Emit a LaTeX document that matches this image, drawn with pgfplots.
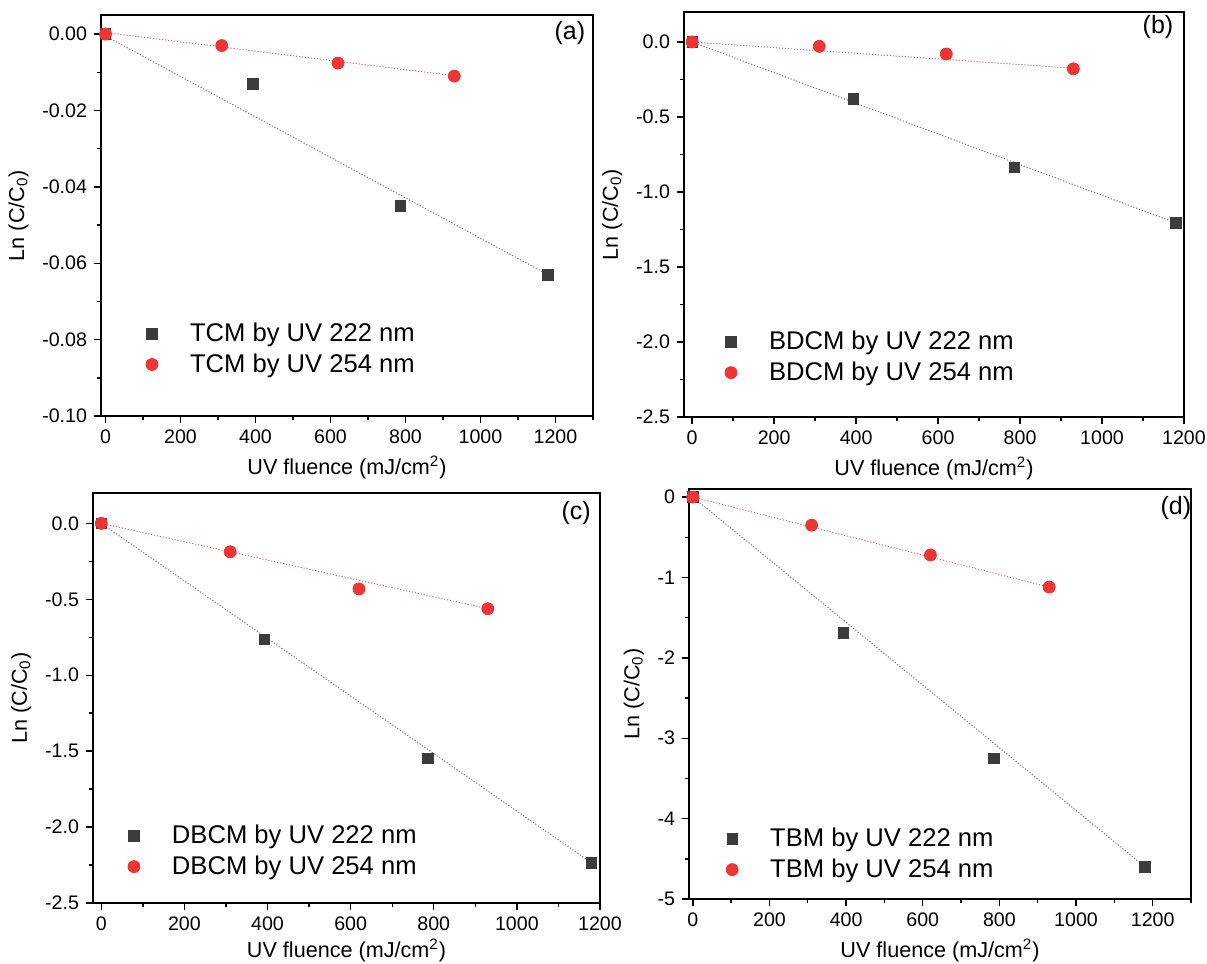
\documentclass[border=0pt]{standalone}
\usepackage{fontspec}
\setmainfont{Liberation Sans}
\usepackage{pgfplots}
\pgfplotsset{compat=1.18}
\definecolor{sq}{HTML}{3C3C3C}
\definecolor{rc}{HTML}{EE3535}
\definecolor{gl}{HTML}{7A7A7A}
\definecolor{rl}{HTML}{E07070}
\tikzset{plab/.style={font=\fontsize{12.5}{15}\selectfont}}
\pgfplotsset{
 panel/.style={
  scale only axis, anchor=south west,
  axis line style={line width=0.7pt, black},
  every tick/.style={line width=0.7pt, black},
  tick align=outside,
  xtick pos=bottom, ytick pos=left,
  major tick length=3.5pt, minor tick length=1.8pt,
  minor x tick num=1, minor y tick num=1,
  xtick={0,200,...,1200},
  scaled y ticks=false, scaled x ticks=false,
  /pgf/number format/1000 sep={},
  tick label style={font=\fontsize{9.8}{11}\selectfont},
  label style={font=\fontsize{10.8}{13}\selectfont},
  xlabel={UV fluence (mJ/cm\textsuperscript{2})},
  xlabel style={at={(rel axis cs:0.5,0)}, anchor=center, yshift=-25.5pt},
  ylabel={Ln (C/C\textsubscript{0})},
  /pgf/number format/assume math mode=true,
  legend image code/.code={\draw[mark repeat=1,##1] plot coordinates {(0pt,0pt)};},
  legend style={draw=none, fill=none, inner sep=0pt, outer sep=0pt,
    font=\fontsize{12.8}{15}\selectfont, anchor=north west,
    nodes={inner sep=0pt}, row sep=4.6pt,
    /tikz/every odd column/.append style={column sep=16pt}},
  legend cell align=left,
  clip=false,
 },
 sqm/.style={only marks, mark=square*, mark size=2.6pt, color=sq},
 cim/.style={only marks, mark=*, mark size=3pt, color=rc},
 gfit/.style={forget plot, no marks, gl, line width=0.5pt, dash pattern=on 0.6pt off 0.9pt},
 rfit/.style={forget plot, no marks, rl, line width=0.5pt, dash pattern=on 0.6pt off 0.9pt},
}
\begin{document}
\begin{tikzpicture}
\useasboundingbox (0,0) rectangle (603.5pt,-482pt);
% (a)
\begin{axis}[panel, at={(50.5pt,-208pt)}, width=246pt, height=200.5pt,
  xmin=-12, xmax=1300, ymin=-0.1, ymax=0.005,
  extra x ticks={1300}, extra x tick labels={}, extra x tick style={major tick length=1.8pt},
  ytick={0,-0.02,-0.04,-0.06,-0.08,-0.1},
  yticklabel style={/pgf/number format/.cd, fixed, fixed zerofill, precision=2},
  legend style={at={(0.0915,0.232)}}]
\addplot[gfit] coordinates {(0,-0.0005) (1180,-0.063)};
\addplot[rfit] coordinates {(0,0.0004) (930,-0.0109)};
\addplot[sqm] coordinates {(0,0) (393,-0.013) (786,-0.045) (1180,-0.063)};
\addplot[cim] coordinates {(0,0) (310,-0.003) (620,-0.0076) (930,-0.011)};
\legend{TCM by UV 222 nm, TCM by UV 254 nm}
\node[plab] at (rel axis cs:0.953,0.955) {(a)};
\end{axis}
% (b)
\begin{axis}[panel, at={(342pt,-208.5pt)}, width=250pt, height=202.5pt,
  xmin=-20, xmax=1200, ymin=-2.5, ymax=0.2,
  ytick={0,-0.5,-1,-1.5,-2,-2.5},
  yticklabel style={/pgf/number format/.cd, fixed, fixed zerofill, precision=1},
  legend style={at={(0.082,0.212)}}]
\addplot[gfit] coordinates {(0,0) (1180,-1.206)};
\addplot[rfit] coordinates {(0,0) (930,-0.175)};
\addplot[sqm] coordinates {(0,0) (393,-0.378) (786,-0.836) (1180,-1.206)};
\addplot[cim] coordinates {(0,0) (310,-0.029) (620,-0.08) (930,-0.179)};
\legend{BDCM by UV 222 nm, BDCM by UV 254 nm}
\node[plab] at (rel axis cs:0.948,0.963) {(b)};
\end{axis}
% (c)
\begin{axis}[panel, at={(46.5pt,-451.5pt)}, width=253.5pt, height=205pt,
  xmin=-20, xmax=1200, ymin=-2.5, ymax=0.2,
  ytick={0,-0.5,-1,-1.5,-2,-2.5},
  yticklabel style={/pgf/number format/.cd, fixed, fixed zerofill, precision=1},
  xlabel style={yshift=2pt},
  legend style={at={(0.069,0.19)}}]
\addplot[gfit] coordinates {(0,0) (1180,-2.236)};
\addplot[rfit] coordinates {(0,0) (930,-0.562)};
\addplot[sqm] coordinates {(0,0) (393,-0.764) (786,-1.548) (1180,-2.236)};
\addplot[cim] coordinates {(0,0) (310,-0.187) (620,-0.432) (930,-0.562)};
\legend{DBCM by UV 222 nm, DBCM by UV 254 nm}
\node[plab] at (rel axis cs:0.953,0.951) {(c)};
\end{axis}
% (d)
\begin{axis}[panel, at={(344.5pt,-449.5pt)}, width=251pt, height=205pt,
  xmin=-10, xmax=1300, ymin=-5, ymax=0.1,
  extra x ticks={1300}, extra x tick labels={}, extra x tick style={major tick length=1.8pt},
  ytick={0,-1,-2,-3,-4,-5},
  legend style={at={(0.074,0.173)}}]
\addplot[gfit] coordinates {(0,0) (1180,-4.6)};
\addplot[rfit] coordinates {(0,0) (930,-1.12)};
\addplot[sqm] coordinates {(0,0) (393,-1.69) (786,-3.25) (1180,-4.6)};
\addplot[cim] coordinates {(0,0) (310,-0.35) (620,-0.72) (930,-1.12)};
\legend{TBM by UV 222 nm, TBM by UV 254 nm}
\node[plab] at (rel axis cs:0.97,0.954) {(d)};
\end{axis}
\end{tikzpicture}
\end{document}
